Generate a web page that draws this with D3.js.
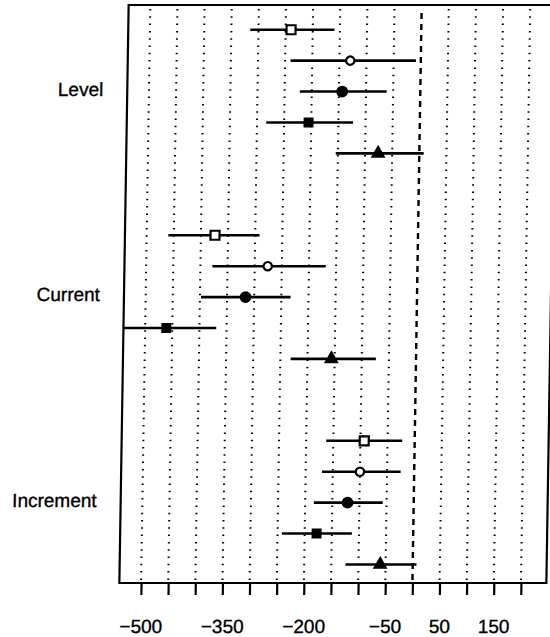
<!DOCTYPE html>
<html>
<head>
<meta charset="utf-8">
<script src="https://cdn.jsdelivr.net/npm/d3@7"></script>
<style>
body { margin: 0; background: #fff; }
svg { display: block; font-family: "Liberation Sans", Arial, Helvetica, sans-serif; }
text { stroke: #000; stroke-width: 0.35px; }
</style>
</head>
<body>
<svg id="chart" width="550" height="637"></svg>
<script>
const groups = ["Level", "Current", "Increment"];
const shapes = ["openSquare", "openCircle", "dot", "square", "triangle"];

const levelEst = [-240, -130, -144, -205, -76];
const levelLo = [-315, -240, -222, -283, -154];
const levelHi = [-160, -9, -62, -123, 8];

const currentEst = [-374, -276, -316, -461, -156];
const currentLo = [-460, -378, -398, -560, -231];
const currentHi = [-292, -169, -233, -369, -74];

const incrementEst = [-93, -100, -122, -178, -60];
const incrementLo = [-163, -170, -184, -242, -124];
const incrementHi = [-23, -25, -57, -113, 7];

const xTicks = d3.range(-500, 201, 50);
const xLabels = [-500, -350, -200, -50, 50, 150];

const frame = { left: 124, right: 551, top: 5, bottom: 583 };
const groupStep = 6.65;

const est = [levelEst, currentEst, incrementEst];
const lo = [levelLo, currentLo, incrementLo];
const hi = [levelHi, currentHi, incrementHi];

const rows = [];
groups.forEach((g, gi) => {
    shapes.forEach((s, i) => {
        rows.push({ group: g, shape: s, est: est[gi][i], lo: lo[gi][i], hi: hi[gi][i], pos: gi * groupStep + i });
    });
});

const x = d3.scaleLinear().domain([-540, 246.8]).range([frame.left, frame.right]);
const y = d3.scaleLinear().domain([-0.8, 17.9]).range([frame.top, frame.bottom]);

// the printed figure is slightly sheared, so lean the whole plot a touch
const cy = 294;
const svg = d3.select("#chart")
    .append("g")
    .attr("transform", `translate(0,${cy}) skewX(-0.92) translate(0,${-cy})`);

svg.append("clipPath").attr("id", "clip")
    .append("rect")
    .attr("x", frame.left).attr("y", frame.top)
    .attr("width", frame.right - frame.left)
    .attr("height", frame.bottom - frame.top);

// dotted grid at every tick, dashed reference at zero
svg.append("g").selectAll("line")
    .data(xTicks.filter(d => d !== 0))
    .join("line")
    .attr("x1", d => x(d)).attr("x2", d => x(d))
    .attr("y1", frame.top + 4).attr("y2", frame.bottom - 3)
    .attr("stroke", "#000")
    .attr("stroke-width", 2)
    .attr("stroke-dasharray", "1.5,5.8");

svg.append("line")
    .attr("x1", x(0)).attr("x2", x(0))
    .attr("y1", frame.top + 8).attr("y2", frame.bottom)
    .attr("stroke", "#000")
    .attr("stroke-width", 2.4)
    .attr("stroke-dasharray", "6,5");

// intervals
svg.append("g").attr("clip-path", "url(#clip)")
    .selectAll("line")
    .data(rows)
    .join("line")
    .attr("x1", d => x(d.lo)).attr("x2", d => x(d.hi))
    .attr("y1", d => y(d.pos)).attr("y2", d => y(d.pos))
    .attr("stroke", "#000")
    .attr("stroke-width", 2.6);

const symbolFor = {
    openSquare: { type: d3.symbolSquare, size: 81, fill: "#fff" },
    openCircle: { type: d3.symbolCircle, size: 55, fill: "#fff" },
    dot: { type: d3.symbolCircle, size: 110, fill: "#000" },
    square: { type: d3.symbolSquare, size: 100, fill: "#000" },
    triangle: { type: d3.symbolTriangle, size: 95, fill: "#000" }
};

svg.append("g").selectAll("path")
    .data(rows)
    .join("path")
    .attr("transform", d => `translate(${x(d.est)},${y(d.pos)})`)
    .attr("d", d => d3.symbol().type(symbolFor[d.shape].type).size(symbolFor[d.shape].size)())
    .attr("fill", d => symbolFor[d.shape].fill)
    .attr("stroke", "#000")
    .attr("stroke-width", d => symbolFor[d.shape].fill === "#fff" ? 2.2 : 0);

// frame
svg.append("rect")
    .attr("x", frame.left).attr("y", frame.top)
    .attr("width", frame.right - frame.left)
    .attr("height", frame.bottom - frame.top)
    .attr("fill", "none")
    .attr("stroke", "#000")
    .attr("stroke-width", 2.2);

// x axis
const xAxis = d3.axisBottom(x)
    .tickValues(xTicks)
    .tickSize(12)
    .tickPadding(25)
    .tickFormat(d => xLabels.includes(d) ? d3.format("d")(d) : "");

const gx = svg.append("g")
    .attr("transform", `translate(0,${frame.bottom})`)
    .call(xAxis);
gx.select(".domain").remove();
gx.selectAll(".tick line").attr("stroke-width", 2.2);
gx.selectAll(".tick text")
    .attr("font-size", 19)
    .attr("font-family", "Liberation Sans, Arial, sans-serif")
    .attr("fill", "#000");

// group labels, set at the middle row of each group
svg.append("g").selectAll("text")
    .data(groups)
    .join("text")
    .attr("x", 100)
    .attr("y", (d, i) => y(i * groupStep + 2) + 4)
    .attr("text-anchor", "end")
    .attr("font-size", 19)
    .text(d => d);
</script>
</body>
</html>
